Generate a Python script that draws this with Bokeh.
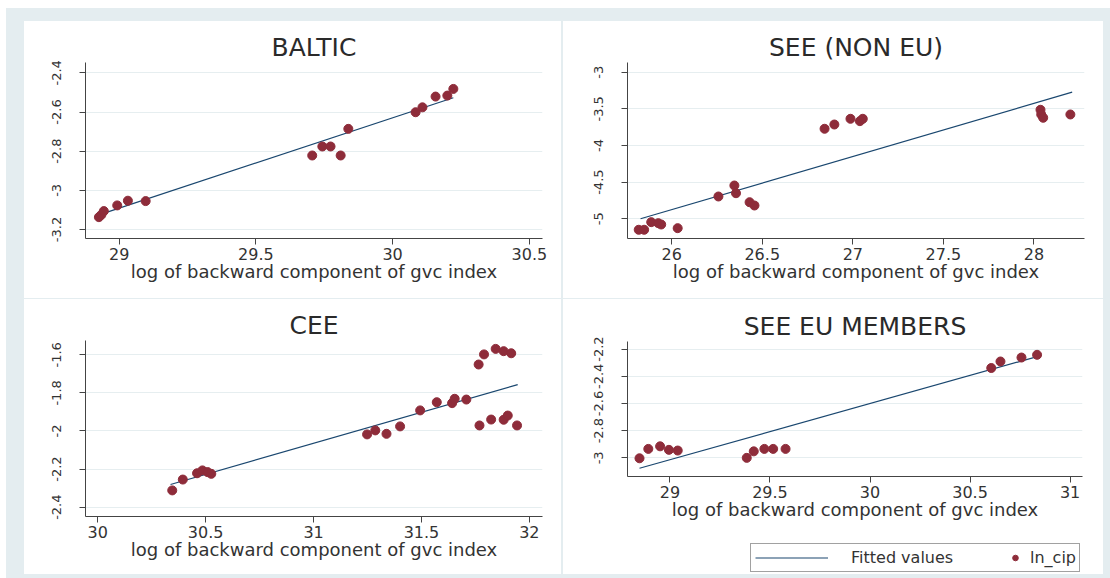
from bokeh.plotting import figure
from bokeh.layouts import row, column
from bokeh.models import Range1d, Legend, LegendItem, Spacer
from bokeh.embed import file_html
from bokeh.resources import INLINE

# ---------------- data ----------------
x_label = "log of backward component of gvc index"

baltic_x = [28.926, 28.935, 28.944, 28.993, 29.032, 29.097, 29.706, 29.743, 29.773, 29.810,
            29.838, 30.084, 30.109, 30.157, 30.200, 30.222]
baltic_y = [-3.137, -3.125, -3.106, -3.077, -3.053, -3.055, -2.822, -2.776, -2.776, -2.822,
            -2.686, -2.601, -2.576, -2.521, -2.516, -2.482]
baltic_fit_x = [28.926, 30.222]
baltic_fit_y = [-3.125, -2.527]

seenoneu_x = [25.818, 25.848, 25.887, 25.926, 25.942, 26.033, 26.258, 26.346, 26.355, 26.430,
              26.457, 26.844, 26.898, 26.987, 27.039, 27.055, 28.036, 28.040, 28.051, 28.201]
seenoneu_y = [-5.150, -5.150, -5.046, -5.060, -5.078, -5.128, -4.696, -4.546, -4.651, -4.774,
              -4.819, -3.772, -3.714, -3.636, -3.668, -3.636, -3.513, -3.577, -3.622, -3.577]
seenoneu_fit_x = [25.828, 28.211]
seenoneu_fit_y = [-5.000, -3.273]

cee_x = [30.345, 30.394, 30.460, 30.485, 30.509, 30.526, 31.248, 31.286, 31.338, 31.401,
         31.494, 31.571, 31.642, 31.654, 31.708, 31.765, 31.790, 31.844, 31.881, 31.916,
         31.769, 31.823, 31.881, 31.900, 31.943]
cee_y = [-2.312, -2.255, -2.222, -2.207, -2.216, -2.225, -2.018, -1.997, -2.015, -1.976,
         -1.892, -1.849, -1.854, -1.831, -1.835, -1.651, -1.598, -1.569, -1.581, -1.592,
         -1.971, -1.940, -1.941, -1.919, -1.971]
cee_fit_x = [30.337, 31.946]
cee_fit_y = [-2.281, -1.757]

seeeu_x = [28.848, 28.892, 28.951, 28.995, 29.039, 29.384, 29.419, 29.472, 29.516, 29.578,
           30.606, 30.652, 30.757, 30.835]
seeeu_y = [-3.003, -2.934, -2.915, -2.941, -2.946, -3.000, -2.952, -2.934, -2.934, -2.934,
           -2.339, -2.291, -2.262, -2.242]
seeeu_fit_x = [28.848, 30.835]
seeeu_fit_y = [-3.076, -2.255]

baltic_xticks = [29, 29.5, 30, 30.5]
baltic_xlabels = ["29", "29.5", "30", "30.5"]
baltic_yticks = [-3.2, -3, -2.8, -2.6, -2.4]
baltic_ylabels = ["-3.2", "-3", "-2.8", "-2.6", "-2.4"]

seenoneu_xticks = [26, 26.5, 27, 27.5, 28]
seenoneu_xlabels = ["26", "26.5", "27", "27.5", "28"]
seenoneu_yticks = [-5, -4.5, -4, -3.5, -3]
seenoneu_ylabels = ["-5", "-4.5", "-4", "-3.5", "-3"]

cee_xticks = [30, 30.5, 31, 31.5, 32]
cee_xlabels = ["30", "30.5", "31", "31.5", "32"]
cee_yticks = [-2.4, -2.2, -2, -1.8, -1.6]
cee_ylabels = ["-2.4", "-2.2", "-2", "-1.8", "-1.6"]

seeeu_xticks = [29, 29.5, 30, 30.5, 31]
seeeu_xlabels = ["29", "29.5", "30", "30.5", "31"]
seeeu_yticks = [-3, -2.8, -2.6, -2.4, -2.2]
seeeu_ylabels = ["-3", "-2.8", "-2.6", "-2.4", "-2.2"]

legend_labels = ["Fitted values", "ln_cip"]

# ---------------- style ----------------
FONT = "DejaVu Sans"
BG = "#e4edf0"
MARKER = "#8e2c3a"
LINE = "#1a476f"
TXT = "#333333"
GRID = "#e6eef0"


def make_panel(title, xs, ys, fx, fy, xr, yr, xt, xl, yt, yl, w, h, bl, br, bt, bb):
    p = figure(width=w, height=h, output_backend="svg", toolbar_location=None,
               x_range=Range1d(*xr), y_range=Range1d(*yr),
               min_border_left=bl, min_border_right=br,
               min_border_top=bt, min_border_bottom=bb,
               styles={"background-color": "white"})
    p.background_fill_color = "white"
    p.border_fill_color = "white"
    p.outline_line_color = None
    p.title.text = title
    p.title.align = "center"
    p.title.text_font = FONT
    p.title.text_font_size = "25px"
    p.title.text_font_style = "normal"
    p.title.text_color = "#2a2a2a"
    p.title.standoff = 2

    p.xgrid.visible = False
    p.ygrid.grid_line_color = GRID
    p.ygrid.grid_line_width = 1

    for ax in (p.xaxis[0], p.yaxis[0]):
        ax.axis_line_color = "#444444"
        ax.major_tick_line_color = "#444444"
        ax.minor_tick_line_color = None
        ax.major_tick_out = 6
        ax.major_tick_in = 0
        ax.major_label_text_font = FONT
        ax.major_label_text_color = TXT

    xa = p.xaxis[0]
    xa.ticker = xt
    xa.major_label_overrides = dict(zip(xt, xl))
    xa.major_label_text_font_size = "16px"
    xa.major_label_standoff = 3
    xa.axis_label = x_label
    xa.axis_label_text_font = FONT
    xa.axis_label_text_font_size = "18px"
    xa.axis_label_text_font_style = "normal"
    xa.axis_label_text_color = TXT
    xa.axis_label_standoff = -2

    ya = p.yaxis[0]
    ya.ticker = yt
    ya.major_label_overrides = dict(zip(yt, yl))
    ya.major_label_text_font_size = "13px"
    ya.major_label_orientation = "vertical"
    ya.major_label_standoff = 18

    lr = p.line(fx, fy, line_color=LINE, line_width=1.2)
    sr = p.scatter(xs, ys, size=9, marker="circle", fill_color=MARKER, line_color=MARKER)
    return p, lr, sr


p1, _, _ = make_panel("BALTIC", baltic_x, baltic_y, baltic_fit_x, baltic_fit_y,
                      (28.877, 30.548), (-3.246, -2.347),
                      baltic_xticks, baltic_xlabels, baltic_yticks, baltic_ylabels,
                      537, 277, 61, 19, 41, 60)
p2, _, _ = make_panel("SEE (NON EU)", seenoneu_x, seenoneu_y, seenoneu_fit_x, seenoneu_fit_y,
                      (25.756, 28.279), (-5.269, -2.868),
                      seenoneu_xticks, seenoneu_xlabels, seenoneu_yticks, seenoneu_ylabels,
                      540, 277, 64, 19, 41, 60)
p3, _, _ = make_panel("CEE", cee_x, cee_y, cee_fit_x, cee_fit_y,
                      (29.943, 32.061), (-2.449, -1.525),
                      cee_xticks, cee_xlabels, cee_yticks, cee_ylabels,
                      537, 275, 61, 19, 41, 58)
p4, lr4, sr4 = make_panel("SEE EU MEMBERS", seeeu_x, seeeu_y, seeeu_fit_x, seeeu_fit_y,
                          (28.788, 31.062), (-3.137, -2.144),
                          seeeu_xticks, seeeu_xlabels, seeeu_yticks, seeeu_ylabels,
                          540, 240, 64, 21, 42, 63)

# ---------------- legend strip (below panel 4) ----------------
leg = figure(width=540, height=35, output_backend="svg", toolbar_location=None,
             x_range=Range1d(0, 1), y_range=Range1d(0, 1),
             min_border_left=64, min_border_right=21, min_border_top=0, min_border_bottom=0,
             styles={"background-color": "white"})
leg.axis.visible = False
leg.grid.visible = False
leg.outline_line_color = None
leg.background_fill_color = "white"
leg.border_fill_color = "white"
# legend proxies: the same series, drawn outside the strip's visible range
leg_line = leg.line(seeeu_fit_x, seeeu_fit_y, line_color=LINE, line_width=1.2)
leg_dot = leg.scatter(seeeu_x, seeeu_y, size=9, marker="circle",
                      fill_color=MARKER, line_color=MARKER)

legA = Legend(items=[LegendItem(label=legend_labels[0], renderers=[leg_line])],
              location=(123, 2), orientation="horizontal",
              padding=4, margin=0, spacing=0,
              glyph_width=73, glyph_height=17, label_standoff=23,
              label_width=224, label_height=17,
              label_text_font=FONT, label_text_font_size="16px", label_text_color=TXT,
              border_line_color="#444444", border_line_width=1,
              background_fill_color="white", background_fill_alpha=1.0)
legB = Legend(items=[LegendItem(label=legend_labels[1], renderers=[leg_dot])],
              location=(381, 7), orientation="horizontal",
              padding=4, margin=0, spacing=0,
              glyph_width=14, glyph_height=17, label_standoff=8,
              label_height=17,
              label_text_font=FONT, label_text_font_size="16px", label_text_color=TXT,
              border_line_color=None, background_fill_alpha=0.0)
leg.add_layout(legA)
leg.add_layout(legB)

# ---------------- layout ----------------
top_row = row(Spacer(width=18, height=277), p1, Spacer(width=2, height=277), p2,
              Spacer(width=7, height=277))
bot_row = row(Spacer(width=18, height=275), p3, Spacer(width=2, height=275),
              column(p4, leg), Spacer(width=7, height=275))
inner = column(Spacer(width=1104, height=13), top_row, Spacer(width=1104, height=1),
               bot_row, Spacer(width=1104, height=4),
               styles={"background-color": BG})
layout = column(Spacer(width=1110, height=8), row(Spacer(width=6, height=570), inner))

open("out.html", "w").write(file_html(layout, INLINE))
